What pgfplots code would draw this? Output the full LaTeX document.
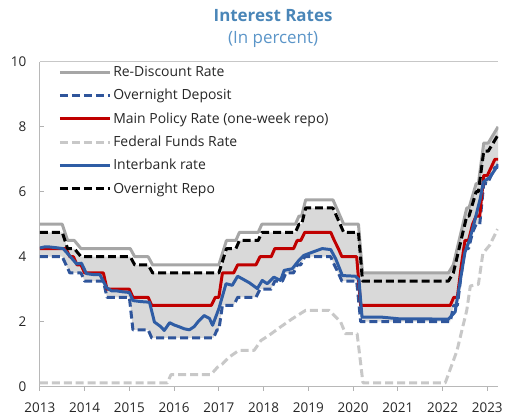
\documentclass[border=0pt]{standalone}
\usepackage{pgfplots}
\usepackage{pgfplotstable}
\pgfplotsset{compat=1.18}
\usepgfplotslibrary{fillbetween}
\usepackage{fontspec}
\setmainfont{Open Sans}
\definecolor{rdgray}{HTML}{A6A6A6}
\definecolor{depblue}{HTML}{2F559B}
\definecolor{polred}{HTML}{C00000}
\definecolor{ffrgray}{HTML}{C8C8C8}
\definecolor{ibblue}{HTML}{2F5DA5}
\definecolor{bandgray}{HTML}{D9D9D9}
\definecolor{titleblue}{HTML}{4A86B8}
\definecolor{subblue}{HTML}{5B95C8}
\definecolor{txt}{HTML}{262626}

\pgfplotstableread{
x y
2013.00 5.00
2013.50 5.00
2013.62 4.50
2013.77 4.50
2013.92 4.25
2015.02 4.25
2015.12 4.00
2015.42 4.00
2015.52 3.75
2017.00 3.75
2017.17 4.50
2017.38 4.50
2017.46 4.75
2017.88 4.75
2017.96 5.00
2018.71 5.00
2018.79 5.25
2018.85 5.25
2018.94 5.75
2019.55 5.75
2019.79 5.00
2020.12 5.00
2020.21 3.50
2022.13 3.50
2022.24 3.75
2022.54 5.50
2022.59 5.50
2022.75 6.25
2022.80 6.25
2022.92 7.50
2023.02 7.50
2023.24 8.00
}\redisc

\pgfplotstableread{
x y
2013.00 4.75
2013.50 4.75
2013.62 4.25
2013.77 4.25
2013.92 4.00
2015.02 4.00
2015.12 3.75
2015.42 3.75
2015.52 3.50
2017.00 3.50
2017.17 4.25
2017.38 4.25
2017.46 4.50
2017.88 4.50
2017.96 4.75
2018.71 4.75
2018.79 5.00
2018.85 5.00
2018.94 5.50
2019.55 5.50
2019.79 4.75
2020.12 4.75
2020.21 3.25
2022.13 3.25
2022.24 3.50
2022.54 5.25
2022.59 5.25
2022.75 6.00
2022.80 6.00
2022.92 7.25
2023.02 7.25
2023.24 7.75
}\repo

\pgfplotstableread{
x y
2013.00 4.75
2013.50 4.75
2013.62 4.25
2013.77 4.25
2013.92 4.00
2015.02 4.00
2015.12 3.75
2015.42 3.75
2015.52 3.50
2017.00 3.50
2017.17 4.25
2017.38 4.25
2017.46 4.50
2017.88 4.50
2017.96 4.75
2018.71 4.75
2018.79 5.00
2018.85 5.00
2018.94 5.50
2019.55 5.50
2019.79 4.75
2020.12 4.75
2020.21 3.50
2022.13 3.50
2022.24 3.75
2022.54 5.50
2022.59 5.50
2022.75 6.25
2022.80 6.25
2022.92 7.50
2023.02 7.50
2023.24 8.00
}\bandtop

\pgfplotstableread{
x y
2013.00 4.00
2013.50 4.00
2013.67 3.50
2013.92 3.50
2014.00 3.25
2014.42 3.25
2014.50 2.75
2015.00 2.75
2015.08 1.75
2015.42 1.75
2015.50 1.50
2016.88 1.50
2016.96 1.75
2017.00 1.75
2017.08 2.50
2017.33 2.50
2017.42 2.75
2017.83 2.75
2017.92 3.00
2018.17 3.00
2018.25 3.25
2018.42 3.25
2018.50 3.50
2018.67 3.50
2018.75 3.75
2018.83 3.75
2018.92 4.00
2019.50 4.00
2019.58 3.75
2019.67 3.50
2019.75 3.25
2020.08 3.25
2020.17 2.00
2022.17 2.00
2022.25 2.50
2022.33 2.50
2022.42 3.50
2022.50 4.25
2022.58 4.25
2022.67 4.75
2022.75 5.00
2022.83 5.00
2022.92 6.25
2023.00 6.25
2023.17 6.75
2023.24 6.75
}\dep

\pgfplotstableread{
x y
2013.00 4.25
2013.58 4.25
2013.67 4.00
2013.75 4.00
2013.83 3.75
2013.92 3.75
2014.00 3.50
2014.42 3.50
2014.50 3.00
2015.00 3.00
2015.08 2.75
2015.42 2.75
2015.50 2.50
2016.83 2.50
2016.92 2.75
2017.00 2.75
2017.08 3.50
2017.33 3.50
2017.42 3.75
2017.83 3.75
2017.92 4.00
2018.17 4.00
2018.25 4.25
2018.67 4.25
2018.75 4.50
2018.83 4.50
2018.92 4.75
2019.50 4.75
2019.58 4.50
2019.67 4.25
2019.75 4.00
2020.08 4.00
2020.17 2.50
2022.17 2.50
2022.25 2.75
2022.33 2.75
2022.42 3.75
2022.50 4.50
2022.58 4.50
2022.67 5.00
2022.75 5.25
2022.83 5.25
2022.92 6.50
2023.00 6.50
2023.17 7.00
2023.24 7.00
}\policy

\pgfplotstableread{
x y
2013.00 0.12
2015.85 0.12
2015.93 0.37
2016.82 0.37
2016.97 0.60
2017.08 0.70
2017.23 0.91
2017.45 1.12
2017.79 1.12
2017.94 1.42
2018.12 1.58
2018.38 1.84
2018.64 2.09
2018.94 2.35
2019.46 2.35
2019.72 2.00
2019.83 1.63
2020.09 1.63
2020.22 0.12
2022.06 0.12
2022.32 1.10
2022.54 2.35
2022.62 3.10
2022.80 3.15
2022.90 4.10
2023.05 4.35
2023.23 4.85
}\ffr

\pgfplotstableread{
x y
2013.00 4.27
2013.10 4.30
2013.22 4.30
2013.35 4.28
2013.52 4.25
2013.67 4.02
2013.82 3.78
2013.93 3.80
2014.04 3.48
2014.20 3.45
2014.34 3.45
2014.49 3.05
2014.60 2.95
2014.71 2.95
2014.85 2.92
2015.00 2.90
2015.08 2.65
2015.25 2.62
2015.45 2.60
2015.56 1.99
2015.70 1.85
2015.78 1.73
2015.90 1.97
2016.00 1.90
2016.12 1.84
2016.23 1.78
2016.34 1.75
2016.45 1.85
2016.53 1.99
2016.67 2.19
2016.79 2.10
2016.86 1.89
2017.00 2.40
2017.16 3.17
2017.30 3.12
2017.42 3.40
2017.55 3.30
2017.68 3.20
2017.86 3.02
2017.97 3.27
2018.08 3.17
2018.23 3.37
2018.38 3.27
2018.46 3.58
2018.64 3.63
2018.79 3.89
2018.90 4.04
2019.09 4.14
2019.31 4.25
2019.50 4.22
2019.61 3.94
2019.76 3.42
2020.05 3.40
2020.13 3.30
2020.20 2.14
2020.64 2.14
2021.02 2.09
2022.13 2.08
2022.28 2.30
2022.50 4.14
2022.61 4.55
2022.69 4.96
2022.84 5.78
2022.91 6.30
2023.06 6.45
2023.21 6.76
2023.24 6.85
}\interbank

\begin{document}
\begin{tikzpicture}
\begin{axis}[
  at={(40pt,32pt)}, anchor=south west,
  scale only axis, width=460pt, height=326pt,
  xmin=2013, xmax=2023.245, ymin=0, ymax=10,
  axis x line*=bottom, axis y line*=left,
  axis line style={draw=black!28, line width=0.8pt},
  xtick={2013,2014,...,2023}, minor x tick num=3,
  ytick={0,2,4,6,8,10},
  tick align=inside,
  major tick length=4pt, minor tick length=4pt,
  tick style={draw=black!30, line width=0.8pt},
  x tick style={yshift=-4pt},
  /pgf/number format/assume math mode=true,
  ticklabel style={font=\fontsize{13.5}{15}\selectfont, text=txt},
  xticklabel style={/pgf/number format/1000 sep=, yshift=-13pt},
  yticklabel style={xshift=-10pt},
  legend style={at={(axis description cs:0.038,0.996)}, anchor=north west,
    draw=none, fill=none, font=\fontsize{14}{16}\selectfont, text=txt,
    row sep=7.3pt, inner sep=1pt},
  legend cell align=left,
  legend image code/.code={\draw[#1] (0pt,0pt) -- (50pt,0pt);},
  line join=round,
]
\addplot[name path=bandhi, draw=none, forget plot] table {\bandtop};
\addplot[name path=bandlo, draw=none, forget plot] table {\dep};
\addplot[bandgray, forget plot] fill between[of=bandhi and bandlo];

\addplot[rdgray, line width=3pt] table {\redisc};
\addlegendentry{Re-Discount Rate}
\addplot[depblue, line width=3pt, dash pattern=on 8pt off 4pt] table {\dep};
\addlegendentry{Overnight Deposit}
\addplot[polred, line width=3pt] table {\policy};
\addlegendentry{Main Policy Rate (one-week repo)}
\addplot[ffrgray, line width=3pt, dash pattern=on 8pt off 4pt] table {\ffr};
\addlegendentry{Federal Funds Rate}
\addplot[ibblue, line width=3pt] table {\interbank};
\addlegendentry{Interbank rate}
\addplot[black, line width=3pt, dash pattern=on 8pt off 4pt] table {\repo};
\addlegendentry{Overnight Repo}
\draw[black!22, line width=0.8pt] (rel axis cs:0,1) -- (rel axis cs:1,1);
\end{axis}
\node[font=\fontsize{17}{20}\selectfont\bfseries, text=titleblue] at (274pt,404pt) {Interest Rates};
\node[font=\fontsize{17}{20}\selectfont, text=subblue] at (274pt,380pt) {(In percent)};
\path (0pt,0pt) (506pt,420pt);
\end{tikzpicture}
\end{document}
